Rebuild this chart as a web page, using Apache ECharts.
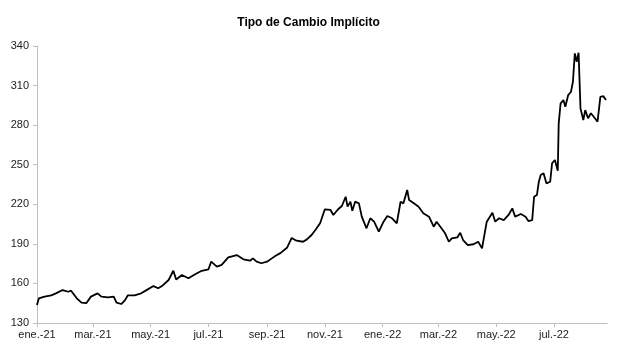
<!DOCTYPE html>
<html>
<head>
<meta charset="utf-8">
<script src="https://cdn.jsdelivr.net/npm/echarts@6/dist/echarts.min.js"></script>
<style>
html,body{margin:0;padding:0;background:#fff;}
#chart{width:617px;height:355px;}
</style>
</head>
<body>
<div id="chart"></div>
<script>
const chartTitle = 'Tipo de Cambio Implícito';
const tickDates = ['2021-01-01','2021-03-01','2021-05-01','2021-07-01','2021-09-01','2021-11-01','2022-01-01','2022-03-01','2022-05-01','2022-07-01'];
const tickLabels = ['ene.-21','mar.-21','may.-21','jul.-21','sep.-21','nov.-21','ene.-22','mar.-22','may.-22','jul.-22'];
const yTicks = [130,160,190,220,250,280,310,340];
const dates = [
'2021-01-01','2021-01-03','2021-01-09','2021-01-16','2021-01-21','2021-01-28','2021-02-03','2021-02-06','2021-02-12','2021-02-17',
'2021-02-22','2021-02-27','2021-03-06','2021-03-10','2021-03-17','2021-03-23','2021-03-26','2021-03-31','2021-04-04','2021-04-07',
'2021-04-14','2021-04-21','2021-04-28','2021-05-04','2021-05-09','2021-05-13','2021-05-20','2021-05-25','2021-05-28','2021-06-03',
'2021-06-10','2021-06-17','2021-06-24','2021-07-01','2021-07-04','2021-07-10','2021-07-15','2021-07-22','2021-07-31','2021-08-07',
'2021-08-14','2021-08-17','2021-08-21','2021-08-26','2021-09-01','2021-09-06','2021-09-10','2021-09-15','2021-09-22','2021-09-27',
'2021-10-02','2021-10-09','2021-10-13','2021-10-18','2021-10-22','2021-10-27','2021-11-01','2021-11-07','2021-11-10','2021-11-15',
'2021-11-19','2021-11-23','2021-11-25','2021-11-28','2021-11-30','2021-12-03','2021-12-07','2021-12-10','2021-12-15','2021-12-19',
'2021-12-23','2021-12-28','2022-01-02','2022-01-06','2022-01-11','2022-01-16','2022-01-20','2022-01-23','2022-01-27','2022-01-29',
'2022-02-03','2022-02-08','2022-02-13','2022-02-19','2022-02-24','2022-02-27','2022-03-03','2022-03-08','2022-03-12','2022-03-15',
'2022-03-21','2022-03-24','2022-03-27','2022-04-01','2022-04-07','2022-04-12','2022-04-16','2022-04-21','2022-04-27','2022-04-30',
'2022-05-04','2022-05-09','2022-05-14','2022-05-18','2022-05-21','2022-05-27','2022-06-01','2022-06-04','2022-06-08','2022-06-10',
'2022-06-13','2022-06-15','2022-06-17','2022-06-20','2022-06-23','2022-06-27','2022-06-29','2022-07-02','2022-07-05','2022-07-06',
'2022-07-08','2022-07-11','2022-07-13','2022-07-16','2022-07-19','2022-07-21','2022-07-23','2022-07-25','2022-07-27','2022-07-29',
'2022-08-01','2022-08-03','2022-08-06','2022-08-09','2022-08-12','2022-08-16','2022-08-19','2022-08-22','2022-08-25'
];
const values = [
143.6,148.7,150,151,152.5,155,153.7,154.5,148.7,145.4,
145,150,152.5,150,149.5,150,145.4,144.4,147.4,151,
151,152.5,155.5,158,156.3,158,162.6,169.6,163,166.4,
163.9,167,169.6,170.6,176.5,172.7,174,179.8,181.5,178.3,
177.2,179,176.5,175.3,176.5,179,181,183,187,194.5,
192.4,191.6,193.4,196.7,200.5,205.6,216.2,215.7,211.9,216.2,
218.7,225.7,218.2,222,215.1,222,220.7,210.6,201.8,209.4,
206.8,199.2,206.8,211.1,209.4,205.6,222,220.7,230.8,223.2,
220.7,218.2,213.2,210.6,203,206.8,203,198,191.6,194.2,
195,198.4,192.9,189.1,189.7,191.6,186.6,206.8,213.6,206.8,
209.4,208,211.9,216.9,210.6,212.6,210.6,207.3,208,225.7,
227,237.1,242.2,243.5,235.9,237.1,251.1,253.6,245.5,281.4,
296.5,299,294,302.8,305.3,312.9,334.4,328.1,334.9,292.7,
283.9,291.4,285.2,289,286.4,282.6,301.5,302,299
];
const startDate = '2021-01-01';
const endDate = '2022-08-26';

const DAY = 86400000;
const toDay = d => (Date.parse(d) - Date.parse(startDate)) / DAY;
const tickDays = tickDates.map(toDay);
const labelMap = {};
tickDays.forEach((d, i) => { labelMap[d] = tickLabels[i]; });
const seriesData = dates.map((d, i) => [toDay(d), values[i]]);

const chart = echarts.init(document.getElementById('chart'), null, {renderer: 'canvas'});
const font = 'Arial, "Liberation Sans", sans-serif';
chart.setOption({
  animation: false,
  backgroundColor: '#ffffff',
  title: {
    text: chartTitle,
    left: 'center',
    top: 12,
    textStyle: {fontFamily: font, fontSize: 12, fontWeight: 'bold', color: '#000'}
  },
  grid: {left: 37, right: 10, top: 46, bottom: 32, containLabel: false},
  xAxis: {
    type: 'value',
    min: 0,
    max: toDay(endDate),
    splitLine: {show: false},
    axisLine: {show: true, lineStyle: {color: '#bfbfbf', width: 1}},
    axisTick: {show: true, length: 4, lineStyle: {color: '#bfbfbf'}, customValues: tickDays},
    axisLabel: {
      customValues: tickDays,
      formatter: v => labelMap[v] || '',
      fontFamily: font, fontSize: 11, color: '#222', margin: 6
    }
  },
  yAxis: {
    type: 'value',
    min: 130,
    max: 340,
    interval: 30,
    splitLine: {show: false},
    axisLine: {show: true, lineStyle: {color: '#bfbfbf', width: 1}},
    axisTick: {show: true, length: 4, lineStyle: {color: '#bfbfbf'}},
    axisLabel: {fontFamily: font, fontSize: 11, color: '#222', margin: 8,
      formatter: v => yTicks.includes(v) ? String(v) : ''}
  },
  series: [{
    type: 'line',
    data: seriesData,
    showSymbol: false,
    symbol: 'none',
    lineStyle: {color: '#000', width: 1.8},
    z: 3
  }]
});
</script>
</body>
</html>
